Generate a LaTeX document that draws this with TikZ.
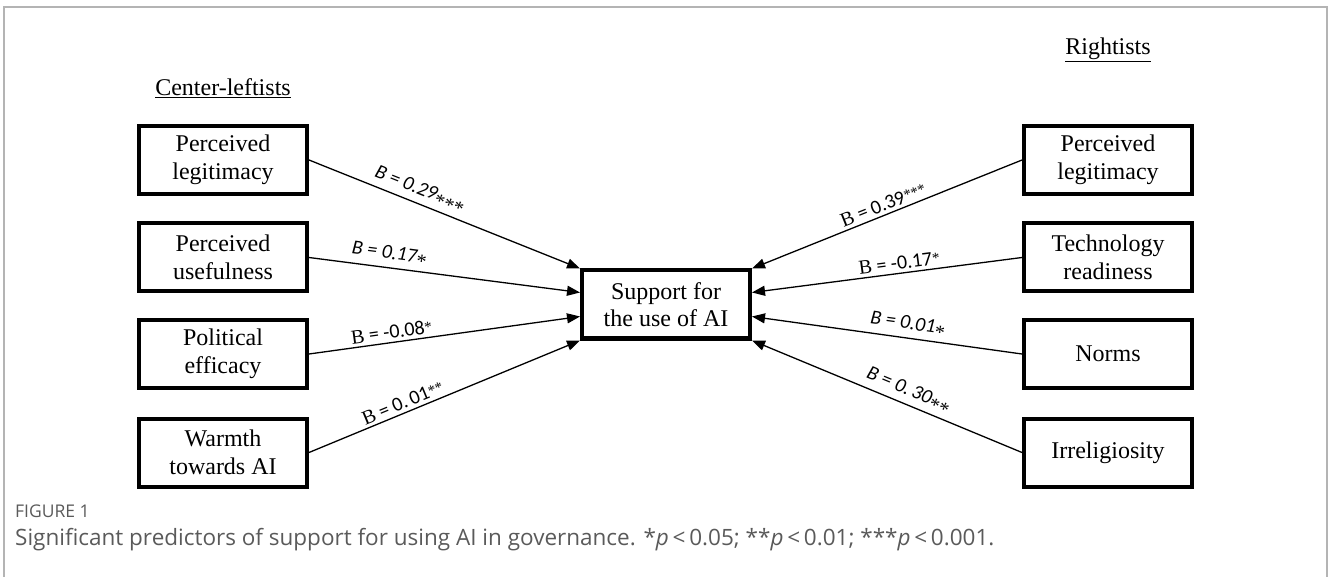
\documentclass[tikz,border=0pt]{standalone}
\usepackage{fontspec}
\setmainfont{Liberation Serif}
\newfontfamily\labfont{Carlito}
\newfontfamily\capfont{Open Sans}
\usetikzlibrary{arrows.meta,calc}
\definecolor{framegray}{HTML}{B4B4B4}
\definecolor{capgray}{HTML}{5A5A5A}
\newcommand{\ilab}[2]{{\labfont\itshape B = #1\raisebox{-0.55ex}{\rmfamily\upshape #2}}}
\newcommand{\ulab}[2]{{\rmfamily B}{\labfont\ =\ #1\raisebox{0.15ex}{\rmfamily\fontsize{15}{16}\selectfont #2}}}
\begin{document}
\begin{tikzpicture}[x=1pt,y=-1pt,
  varbox/.style={draw, line width=4pt, minimum width=168pt, minimum height=68pt,
    align=center, inner sep=2pt, font=\fontsize{24}{27.5}\selectfont},
  conn/.style={line width=1.3pt, -{Triangle[length=13pt,width=10pt]}},
  blab/.style={sloped, above, inner sep=3pt, font=\fontsize{20}{22}\selectfont},
  head/.style={font=\fontsize{24}{27}\selectfont, inner sep=0pt},
  frame/.style={draw=framegray, line width=1.5pt}]
\useasboundingbox (0,0) rectangle (1328,577);
\draw[frame] (4,577) -- (4,7) -- (1327,7) -- (1327,577);

\node[head] (hl) at (223,88) {\underline{Center-leftists}};
\node[head] (hr) at (1108,50) {\underline{Rightists}};

\node[varbox] (c) at (666,304.5) {Support for\\the use of AI};

\node[varbox] (l1) at (223,160) {Perceived\\legitimacy};
\node[varbox] (l2) at (223,257.5) {Perceived\\usefulness};
\node[varbox] (l3) at (223,354) {Political\\efficacy};
\node[varbox] (l4) at (223,452.5) {Warmth\\towards AI};

\node[varbox] (r1) at (1108,160) {Perceived\\legitimacy};
\node[varbox] (r2) at (1108,257.5) {Technology\\readiness};
\node[varbox] (r3) at (1108,354) {Norms};
\node[varbox] (r4) at (1108,452.5) {Irreligiosity};

\coordinate (cl1) at (c.north west);
\coordinate (cl2) at ($(c.north west)!0.333!(c.south west)$);
\coordinate (cl3) at ($(c.north west)!0.667!(c.south west)$);
\coordinate (cl4) at (c.south west);
\coordinate (cr1) at (c.north east);
\coordinate (cr2) at ($(c.north east)!0.333!(c.south east)$);
\coordinate (cr3) at ($(c.north east)!0.667!(c.south east)$);
\coordinate (cr4) at (c.south east);

\draw[conn] (l1.east) -- node[blab, pos=0.39] {\ilab{0.29}{***}} (cl1);
\draw[conn] (l2.east) -- node[blab, pos=0.29] {\ilab{0.17}{*}} (cl2);
\draw[conn] (l3.east) -- node[blab, pos=0.31] {\ulab{-0.08}{*}} (cl3);
\draw[conn] (l4.east) -- node[blab, pos=0.36] {\ulab{0.\,01}{**}} (cl4);

\draw[conn] (r1.west) -- node[blab, pos=0.5] {\ulab{0.39}{***}} (cr1);
\draw[conn] (r2.west) -- node[blab, pos=0.45] {\ulab{-0.17}{*}} (cr2);
\draw[conn] (r3.west) -- node[blab, pos=0.43] {\ilab{0.01}{*}} (cr3);
\draw[conn] (r4.west) -- node[blab, pos=0.44] {\ilab{0.\,30}{**}} (cr4);

\node[anchor=base west, inner sep=0pt, text=capgray, font=\capfont\fontsize{17.5}{19}\selectfont] (fig) at (15,517) {FIGURE 1};
\node[anchor=base west, inner sep=0pt, text=capgray, font=\capfont\fontsize{22.5}{25}\selectfont] (cap) at (15,545)
  {Significant predictors of support for using AI in governance. *\textit{p}\,<\,0.05; **\textit{p}\,<\,0.01; ***\textit{p}\,<\,0.001.};
\end{tikzpicture}
\end{document}
